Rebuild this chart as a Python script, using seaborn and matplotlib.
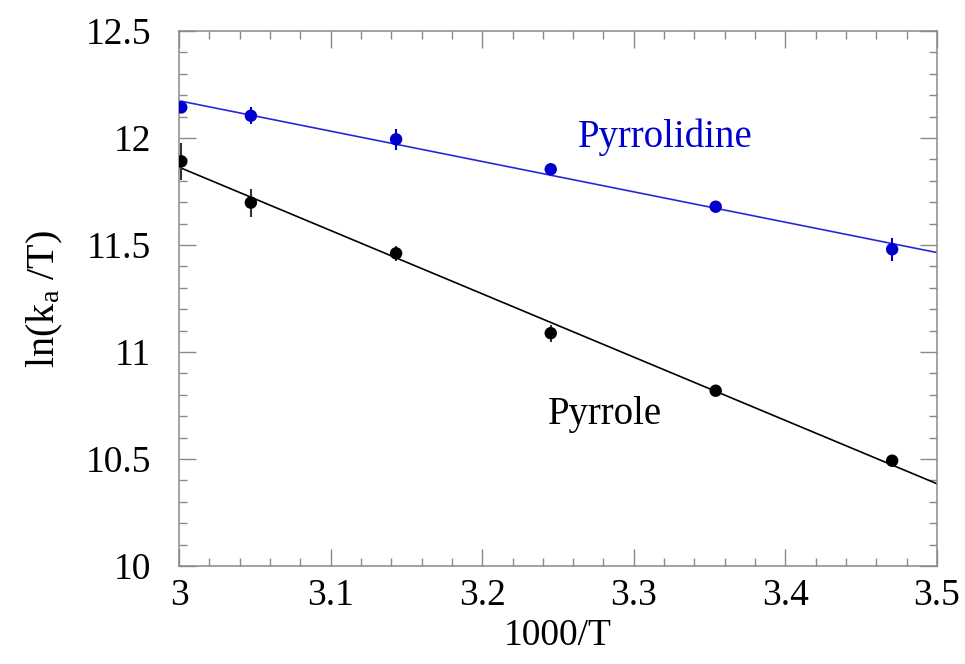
import numpy as np
import pandas as pd
import matplotlib
matplotlib.use("Agg")
import matplotlib.pyplot as plt
from matplotlib.ticker import MultipleLocator
import seaborn as sns

# Inverse temperature, 1000/T (K^-1)
inv_T = [3.0015, 3.0474, 3.1432, 3.2452, 3.3540, 3.4704]

# ln(k_a/T) for each amine, with their uncertainties
pyrrolidine = [12.143, 12.104, 11.994, 11.854, 11.679, 11.480]
pyrrolidine_err = [0.02, 0.04, 0.05, 0.015, 0.025, 0.055]
pyrrole = [11.891, 11.698, 11.461, 11.088, 10.819, 10.492]
pyrrole_err = [0.085, 0.065, 0.035, 0.04, 0.02, 0.02]

x_ticks = [3, 3.1, 3.2, 3.3, 3.4, 3.5]
y_ticks = [10, 10.5, 11, 11.5, 12, 12.5]

blue = "#0000CC"
line_blue = "#2828D8"
black = "#000000"

sns.set_style("ticks")
plt.rcParams["font.family"] = ["Liberation Serif", "DejaVu Serif"]
plt.rcParams["mathtext.fontset"] = "custom"
plt.rcParams["mathtext.rm"] = "Liberation Serif"
plt.rcParams["mathtext.it"] = "Liberation Serif"
plt.rcParams["text.color"] = "black"
plt.rcParams["axes.labelcolor"] = "black"
plt.rcParams["xtick.labelcolor"] = "black"
plt.rcParams["ytick.labelcolor"] = "black"

df = pd.DataFrame({
    "x": inv_T * 2,
    "y": pyrrolidine + pyrrole,
    "err": pyrrolidine_err + pyrrole_err,
    "amine": ["Pyrrolidine"] * 6 + ["Pyrrole"] * 6,
})

fig = plt.figure(figsize=(9.65, 6.64), dpi=100)
ax = fig.add_axes([0.1855, 0.1476, 0.7855, 0.8057])
ax.set_xlim(3, 3.5)
ax.set_ylim(10, 12.5)

colors = {"Pyrrolidine": (blue, line_blue), "Pyrrole": (black, black)}
for name, sub in df.groupby("amine", sort=False):
    pc, lc = colors[name]
    sns.regplot(data=sub, x="x", y="y", ax=ax, scatter=False, ci=None,
                truncate=False, color=lc, line_kws={"linewidth": 1.2})
    ax.errorbar(sub["x"], sub["y"], yerr=sub["err"], fmt="none",
                ecolor=pc if name == "Pyrrolidine" else "#333333",
                elinewidth=1.5, capsize=0, zorder=3)
    sns.scatterplot(data=sub, x="x", y="y", ax=ax, color=pc, s=80,
                    edgecolor="none", zorder=4, legend=False)

ax.set_xlim(3, 3.5)
ax.set_ylim(10, 12.5)
ax.set_xticks(x_ticks)
ax.set_xticklabels(["3", "3.1", "3.2", "3.3", "3.4", "3.5"])
ax.set_yticks(y_ticks)
ax.set_yticklabels(["10", "10.5", "11", "11.5", "12", "12.5"])
ax.xaxis.set_minor_locator(MultipleLocator(0.02))
ax.yaxis.set_minor_locator(MultipleLocator(0.1))

spine_c = "#8a8a8a"
for s in ax.spines.values():
    s.set_visible(True)
    s.set_color(spine_c)
    s.set_linewidth(1.1)
ax.tick_params(which="both", direction="in", top=True, right=True,
               color=spine_c, width=1.0, labelsize=27, labelcolor="black")
ax.tick_params(which="major", length=12)
ax.tick_params(which="minor", length=6)
ax.tick_params(axis="x", which="major", pad=9)
ax.tick_params(axis="y", which="major", pad=20)

ax.set_xlabel("1000/T", fontsize=27, labelpad=4, color="black")
ax.set_ylabel(r"ln(k$_{\rm a}$ /T)", fontsize=29, labelpad=15, color="black")

ax.text(3.321, 12.005, "Pyrrolidine", color=blue, fontsize=28,
        ha="center", va="center")
ax.text(3.281, 10.706, "Pyrrole", color=black, fontsize=28,
        ha="center", va="center")

fig.savefig("out.png", dpi=100)
